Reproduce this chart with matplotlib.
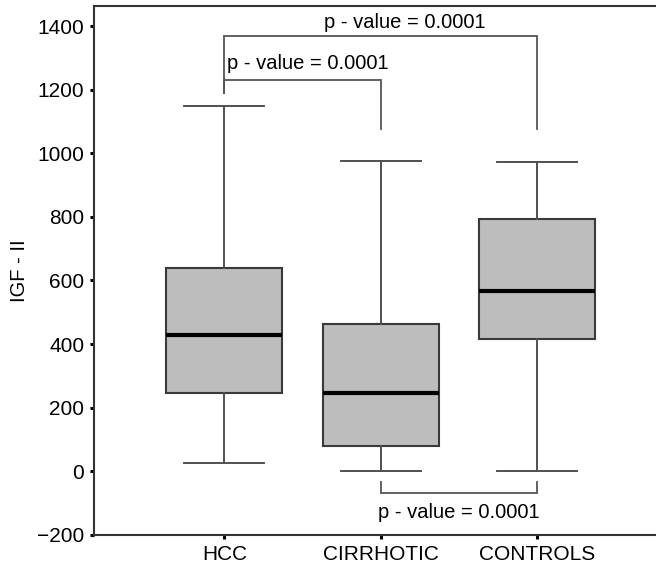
import matplotlib.pyplot as plt

plt.rcParams['font.family'] = ['Liberation Sans', 'DejaVu Sans']

groups = ["HCC", "CIRRHOTIC", "CONTROLS"]
whislo = [25, 0, 0]
q1 = [245, 79, 415]
med = [430, 245, 566]
q3 = [638, 462, 792]
whishi = [1148, 975, 972]

# significance brackets: (group a, group b, y of bar, leg end a, leg end b)
brackets = [
    (0, 1, 1230, 1190, 1075),
    (0, 2, 1368, 1190, 1075),
    (1, 2, -69, -35, -35),
]
ptext = "p - value = 0.0001"

fig = plt.figure(figsize=(6.56, 5.69), dpi=100)
ax = fig.add_axes([0.1433, 0.0598, 0.8567 + 0.01, 0.9297])

stats = []
for i, g in enumerate(groups):
    stats.append(dict(label=g, whislo=whislo[i], q1=q1[i], med=med[i],
                      q3=q3[i], whishi=whishi[i], fliers=[]))
pos = [1, 2, 3]
ax.bxp(stats, positions=pos, widths=0.74, patch_artist=True, showfliers=False,
       boxprops=dict(facecolor="#bdbdbd", edgecolor="#3a3a3a", linewidth=1.5),
       medianprops=dict(color="black", linewidth=3),
       whiskerprops=dict(color="#505050", linewidth=1.4),
       capprops=dict(color="#505050", linewidth=1.4),
       capwidths=0.51)

lc = "#555555"
for a, b, y, ya, yb in brackets:
    xa, xb = pos[a], pos[b]
    ax.plot([xa, xa, xb, xb], [ya, y, y, yb], color=lc, lw=1.3, solid_joinstyle="miter")

fs = 14.5
ax.text(1.02, 1230 + 22, ptext, fontsize=fs, ha="left", va="bottom")
ax.text(2.15, 1368 + 12, ptext, fontsize=fs, ha="center", va="bottom")
ax.text(2.5, -100, ptext, fontsize=fs, ha="center", va="top")

ax.set_xlim(0.167, 3.8)
ax.set_ylim(-200, 1463)
ax.set_yticks([-200, 0, 200, 400, 600, 800, 1000, 1200, 1400])
ax.set_yticklabels(["\u2212200", "0", "200", "400", "600", "800", "1000", "1200", "1400"])
ax.set_xticks(pos)
ax.set_xticklabels(groups)
ax.set_ylabel("IGF - II", fontsize=fs, labelpad=6)
ax.tick_params(axis="both", labelsize=15, length=3, width=2.2, direction="out", pad=4)
for s in ax.spines.values():
    s.set_color("#333333")
    s.set_linewidth(1.5)

fig.savefig("out.png", dpi=100)
